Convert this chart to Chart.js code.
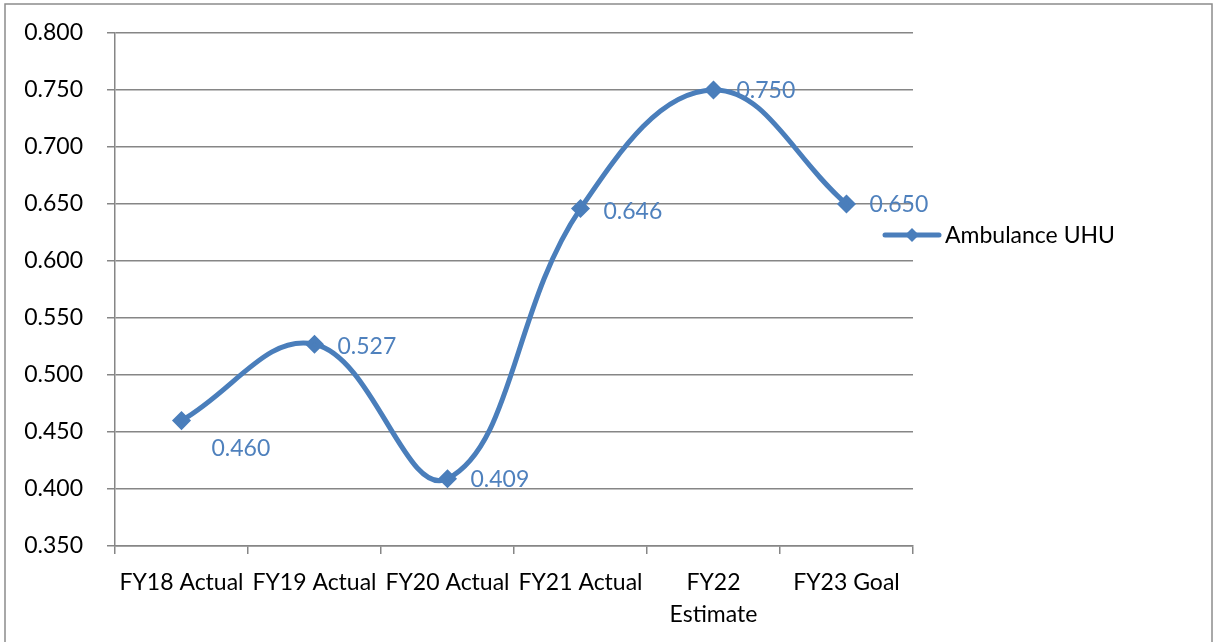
<!DOCTYPE html>
<html>
<head>
<meta charset="utf-8">
<script src="https://cdn.jsdelivr.net/npm/chart.js@4/dist/chart.umd.min.js"></script>
<style>
  html, body { margin: 0; padding: 0; background: #fff; }
  #wrap { width: 1214px; height: 642px; position: relative; }
</style>
</head>
<body>
<div id="wrap"><canvas id="uhuChart"></canvas></div>
<script>
const categories = ["FY18 Actual", "FY19 Actual", "FY20 Actual", "FY21 Actual", ["FY22", "Estimate"], "FY23 Goal"];
const uhuValues = [0.460, 0.527, 0.409, 0.646, 0.750, 0.650];
const seriesName = "Ambulance UHU";
const yMin = 0.35, yMax = 0.8, yStep = 0.05;

// where each value label sits relative to its point
const labelOffsets = [[30, 28], [23, 2], [23, 1], [23, 3], [23, 1], [23, 1]];

const blue = "#4A7EBB";
const labelBlue = "#4F81BD";
const gridGray = "#868686";
const fontFamily = "Lato, 'Liberation Sans', sans-serif";
const fontSize = 23;

const frame = {
  id: "frame",
  beforeDraw(chart) {
    const c = chart.ctx;
    c.save();
    c.strokeStyle = "#8c8c8c";
    c.lineWidth = 1.5;
    c.strokeRect(5, 4, 1207, 700);
    c.restore();
  }
};

const valueLabels = {
  id: "valueLabels",
  afterDatasetsDraw(chart) {
    const c = chart.ctx;
    const meta = chart.getDatasetMeta(0);
    c.save();
    c.font = fontSize + "px " + fontFamily;
    c.fillStyle = labelBlue;
    c.textAlign = "left";
    c.textBaseline = "middle";
    meta.data.forEach((pt, i) => {
      const off = labelOffsets[i];
      c.fillText(uhuValues[i].toFixed(3), pt.x + off[0], pt.y + off[1]);
    });
    c.restore();
  }
};

const sideLegend = {
  id: "sideLegend",
  afterDraw(chart) {
    const c = chart.ctx;
    const a = chart.chartArea;
    const x = a.right - 28, y = 235;
    c.save();
    c.strokeStyle = blue;
    c.lineWidth = 5;
    c.lineCap = "round";
    c.beginPath();
    c.moveTo(x, y);
    c.lineTo(x + 54, y);
    c.stroke();
    c.fillStyle = blue;
    c.beginPath();
    c.moveTo(x + 27, y - 7);
    c.lineTo(x + 34, y);
    c.lineTo(x + 27, y + 7);
    c.lineTo(x + 20, y);
    c.closePath();
    c.fill();
    c.font = fontSize + "px " + fontFamily;
    c.fillStyle = "#000";
    c.textBaseline = "middle";
    c.fillText(seriesName, x + 60, y + 1);
    c.restore();
  }
};

new Chart(document.getElementById("uhuChart"), {
  type: "line",
  data: {
    labels: categories,
    datasets: [{
      label: seriesName,
      data: uhuValues,
      borderColor: blue,
      backgroundColor: blue,
      borderWidth: 5,
      tension: 0.4,
      pointStyle: "rectRot",
      pointRadius: 6,
      pointHoverRadius: 6,
      fill: false
    }]
  },
  options: {
    responsive: true,
    maintainAspectRatio: false,
    animation: false,
    layout: { padding: { top: 33, right: 301, left: 0, bottom: 0 } },
    plugins: {
      legend: { display: false },
      tooltip: { enabled: false }
    },
    scales: {
      x: {
        offset: true,
        grid: { display: true, drawOnChartArea: false, offset: true, color: gridGray, lineWidth: 1.5, tickLength: 8 },
        border: { color: gridGray, width: 1.5 },
        ticks: { color: "#000", font: { family: fontFamily, size: fontSize, lineHeight: 1.4 }, padding: 12, maxRotation: 0, autoSkip: false },
        afterFit(scale) { scale.height = 96; }
      },
      y: {
        min: yMin,
        max: yMax,
        grid: { color: gridGray, lineWidth: 1.5, tickLength: 8 },
        border: { color: gridGray, width: 1.5 },
        ticks: {
          stepSize: yStep,
          color: "#000",
          padding: 24,
          font: { family: fontFamily, size: fontSize },
          callback: v => v.toFixed(3)
        },
        afterFit(scale) {
          scale.width = 115;
          scale.paddingTop = 0;
          scale.paddingBottom = 0;
        }
      }
    }
  },
  plugins: [frame, valueLabels, sideLegend]
});
</script>
</body>
</html>
